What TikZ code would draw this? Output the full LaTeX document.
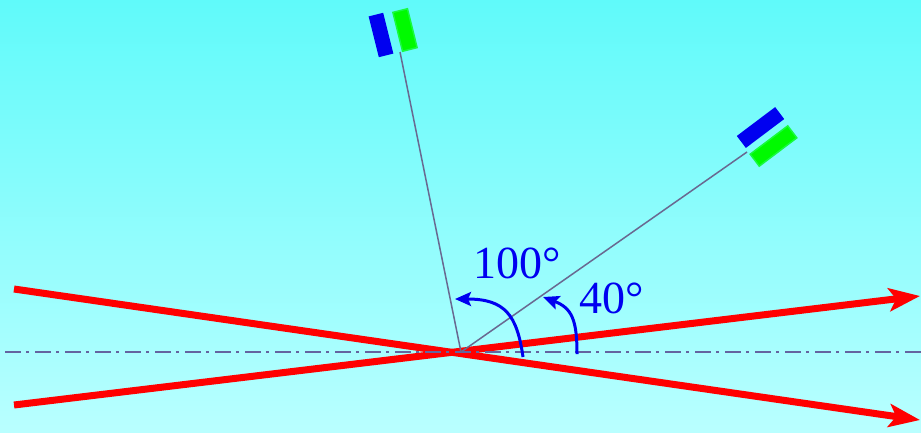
\documentclass[tikz,border=0pt]{standalone}
\usepackage{fontspec}
\setmainfont{Liberation Serif}
\usetikzlibrary{arrows.meta}
\definecolor{bgtop}{RGB}{96,250,250}
\definecolor{bgbot}{RGB}{185,255,255}
\definecolor{beamc}{RGB}{255,0,0}
\definecolor{axisc}{RGB}{100,100,160}
\definecolor{rayc}{RGB}{105,105,145}
\definecolor{detblue}{RGB}{0,0,240}
\definecolor{detgreen}{RGB}{0,250,0}
\definecolor{arcc}{RGB}{0,0,240}
\tikzset{
  beamline/.style={draw=beamc, line width=7pt, -{Stealth[length=31pt,width=23pt,inset=7pt]}},
  axisline/.style={draw=axisc, line width=2pt, dash pattern=on 16pt off 5pt on 3pt off 6pt},
  rayline/.style={draw=rayc, line width=1.5pt},
  arcline/.style={draw=arcc, line width=3pt, -{Stealth[length=16pt,width=14pt,inset=3pt]}},
  anglelabel/.style={text=arcc, font=\fontsize{46}{50}\selectfont, inner sep=0pt, anchor=base west},
  detb/.style={fill=detblue, draw=none, inner sep=0pt, minimum height=15pt},
  detg/.style={fill=detgreen, draw=detgreen!75!bgtop, line width=1.5pt, inner sep=0pt, minimum height=15pt},
}
\begin{document}
\begin{tikzpicture}[x=1pt,y=-1pt]
\useasboundingbox (0,0) rectangle (921,432);
\shade[top color=bgtop, bottom color=bgbot] (0,0) rectangle (921,432);

% coordinates
\coordinate (b1s) at (14,289);
\coordinate (b1e) at (920,420);
\coordinate (b2s) at (14,405);
\coordinate (b2e) at (920,296);
\coordinate (a0) at (5,352);
\coordinate (a1) at (921,352);
\coordinate (O) at (461,352);
\coordinate (r1) at (400,52);
\coordinate (r2) at (747,152);

% beams
\draw[beamline] (b1s) -- (b1e);
\draw[beamline] (b2s) -- (b2e);

% axis
\draw[axisline] (a0) -- (a1);

% rays to detectors
\draw[rayline] (O) -- (r1);
\draw[rayline] (O) -- (r2);

% angle arrows
\coordinate (p1s) at (523,357);
\coordinate (p1e) at (455,299);
\coordinate (p2s) at (577,354);
\coordinate (p2e) at (543,297);
\draw[arcline] (p1s) .. controls (517,315) and (505,299) .. (p1e);
\draw[arcline] (p2s) .. controls (577,320) and (572,308) .. (p2e);

% labels
\node[anglelabel] (l100) at (473,278) {100°};
\node[anglelabel] (l40) at (579,313) {40°};

% detectors
\node[detb, minimum width=42pt, rotate=104] (d1b) at (381,35) {};
\node[detg, minimum width=40pt, rotate=104] (d1g) at (405,30) {};
\node[detb, minimum width=48pt, rotate=37] (d2b) at (760.5,127.5) {};
\node[detg, minimum width=47pt, rotate=37] (d2g) at (773.5,146) {};
\end{tikzpicture}
\end{document}
